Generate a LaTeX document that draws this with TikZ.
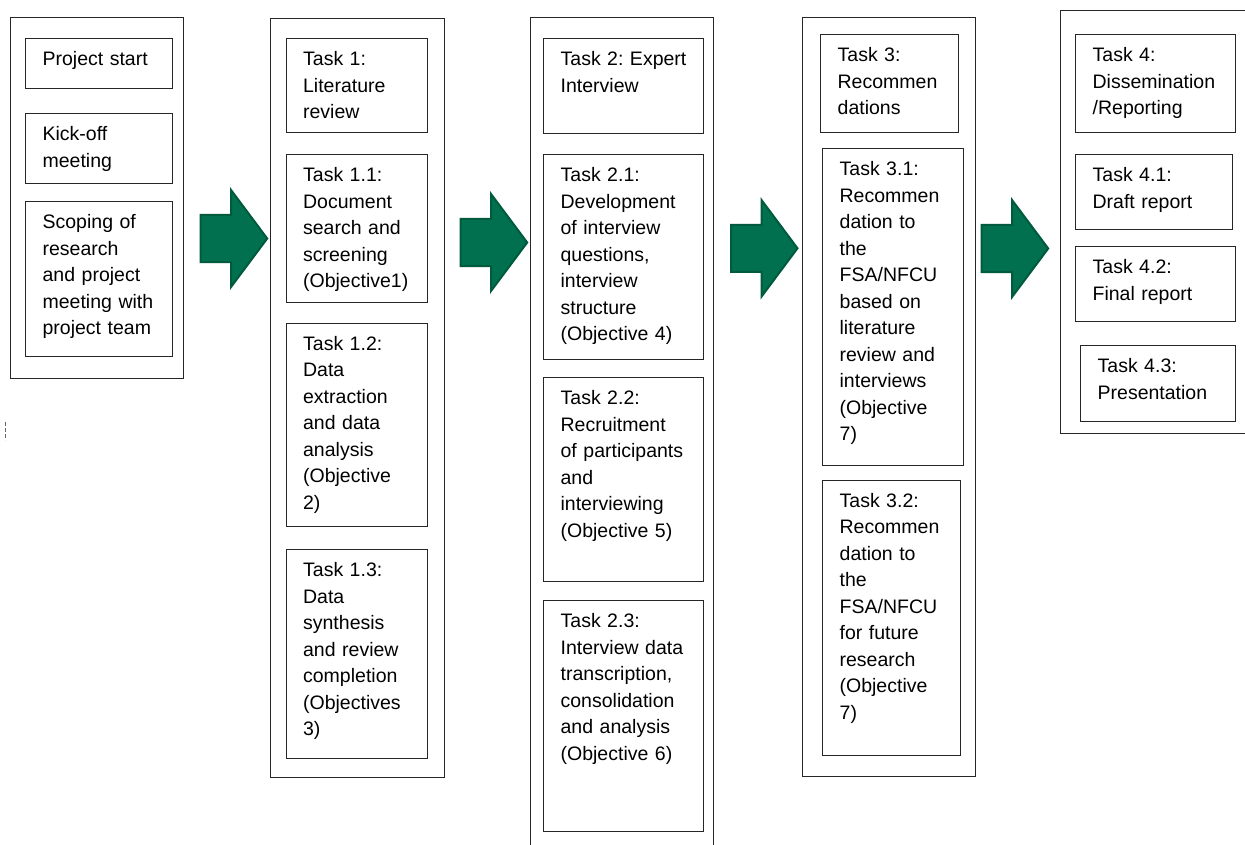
\documentclass[tikz,border=0pt]{standalone}
\usepackage{fontspec}
\setmainfont{Liberation Sans}
\usetikzlibrary{positioning}
\frenchspacing

\definecolor{boxline}{RGB}{38,38,38}
\definecolor{arrowgreen}{HTML}{00704F}
\definecolor{arrowedge}{HTML}{005A3D}
\newcommand\taskfont{\fontsize{19.5}{26.5}\selectfont}

\tikzset{
	stage/.style={draw=boxline, line width=1.3pt, anchor=north west, inner sep=0pt},
	task/.style={draw=boxline, line width=1.3pt, anchor=north west, align=left,
		inner xsep=17pt, inner ysep=0pt, text height=27pt, font=\taskfont},
	flowarrow/.style={fill=arrowgreen, draw=arrowedge, line width=2pt, line join=miter},
	flow/.pic={\path[flowarrow] (0,23.5) -- (30.5,23.5) -- (30.5,48.3) -- (66.5,0)
		-- (30.5,-48.3) -- (30.5,-23.5) -- (0,-23.5) -- cycle;}
}

\begin{document}
\begin{tikzpicture}[x=1pt,y=-1pt]
	\useasboundingbox (0,0) rectangle (1245,845);
	\node[stage, minimum width=173pt, minimum height=361pt] (c1) at (10,17) {};
	\node[stage, minimum width=173.5pt, minimum height=759pt] (c2) at (270,18) {};
	\node[stage, minimum width=183pt, minimum height=840pt] (c3) at (530,17) {};
	\node[stage, minimum width=173pt, minimum height=759pt] (c4) at (802,17) {};
	\node[stage, minimum width=195pt, minimum height=423pt] (c5) at (1060,10) {};

	\node[task, text width=113pt, text depth=23pt] (ps) at (25,38) {Project start};
	\node[task, text width=113pt, text depth=43pt] (ko) at (25,113) {Kick-off\\meeting};
	\node[task, text width=113pt, text depth=128pt] (sc) at (25,201)
		{Scoping of\\research\\and project\\meeting with\\project team};

	\node[task, text width=107.5pt, text depth=67pt] (t1) at (285.5,38) {Task 1:\\Literature\\review};
	\node[task, text width=107.5pt, text depth=121pt] (t11) at (285.5,154)
		{Task 1.1:\\Document\\search and\\screening\\(Objective1)};
	\node[task, text width=107.5pt, text depth=176.5pt] (t12) at (285.5,322.5)
		{Task 1.2:\\Data\\extraction\\and data\\analysis\\(Objective\\2)};
	\node[task, text width=107.5pt, text depth=182pt] (t13) at (285.5,549)
		{Task 1.3:\\Data\\synthesis\\and review\\completion\\(Objectives\\3)};

	\node[task, text width=126pt, text depth=68pt] (t2) at (543,38) {\mbox{Task 2: Expert}\\Interview};
	\node[task, text width=126pt, text depth=177.5pt] (t21) at (543,154)
		{Task 2.1:\\Development\\of interview\\questions,\\interview\\structure\\(Objective 4)};
	\node[task, text width=126pt, text depth=177pt] (t22) at (543,377)
		{Task 2.2:\\Recruitment\\of participants\\and\\interviewing\\(Objective 5)};
	\node[task, text width=126pt, text depth=204pt] (t23) at (543,600)
		{Task 2.3:\\Interview data\\transcription,\\consolidation\\and analysis\\(Objective 6)};

	\node[task, text width=104pt, text depth=71pt] (t3) at (820,34) {Task 3:\\Recommen\\dations};
	\node[task, text width=107pt, text depth=290pt] (t31) at (822,148)
		{Task 3.1:\\Recommen\\dation to\\the\\FSA/NFCU\\based on\\literature\\review and\\interviews\\(Objective\\7)};
	\node[task, text width=104pt, text depth=248.5pt] (t32) at (822,479.5)
		{Task 3.2:\\Recommen\\dation to\\the\\FSA/NFCU\\for future\\research\\(Objective\\7)};

	\node[task, text width=126pt, text depth=71pt] (t4) at (1075,34) {Task 4:\\Dissemination\\/Reporting};
	\node[task, text width=123pt, text depth=48pt] (t41) at (1075,154) {Task 4.1:\\Draft report};
	\node[task, text width=126pt, text depth=48pt] (t42) at (1075,246) {Task 4.2:\\Final report};
	\node[task, text width=121pt, text depth=49pt] (t43) at (1080,345) {Task 4.3:\\Presentation};

	\pic at (200.7,238.5) {flow};
	\pic at (460.7,242.5) {flow};
	\pic at (731,248.3) {flow};
	\pic at (981.7,248.5) {flow};

	\draw[boxline!70, line width=1pt, dash pattern=on 4pt off 2pt] (5,422) -- (5,440);
\end{tikzpicture}
\end{document}
